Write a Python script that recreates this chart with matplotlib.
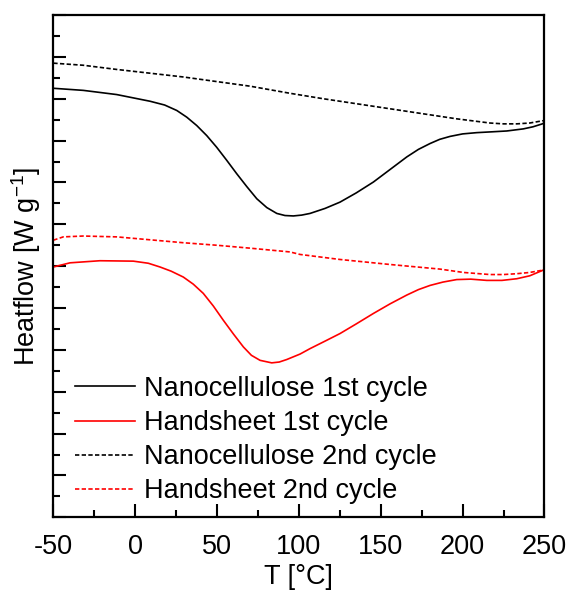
#
# DSC heat flow curves, nanocellulose vs handsheet
#
import matplotlib.pyplot as plt
from matplotlib.ticker import MultipleLocator, NullFormatter

plt.rcParams['font.family'] = ['Liberation Sans', 'DejaVu Sans']
plt.rcParams['axes.unicode_minus'] = False
plt.rcParams['mathtext.fontset'] = 'custom'
plt.rcParams['mathtext.rm'] = 'Liberation Sans'
plt.rcParams['mathtext.default'] = 'regular'

# Nanocellulose 1st cycle
T_nc1 = [-50, -31.7, -11.3, 9.1, 18, 25.4, 31.5, 37.6, 43.7, 49.8, 55.9, 62.0,
         68.2, 74.3, 80.4, 86.5, 91.5, 96.6, 101.7, 106.8, 116, 125.1, 135,
         145.5, 155.7, 165.9, 173, 180.1, 186, 192.3, 200, 208.6, 218, 227.0,
         237.1, 243, 248.7, 249.6, 250]
H_nc1 = [10.25, 10.20, 10.10, 9.94, 9.85, 9.72, 9.56, 9.36, 9.12, 8.84, 8.53, 8.21,
         7.90, 7.61, 7.40, 7.26, 7.21, 7.20, 7.22, 7.26, 7.38, 7.53, 7.75,
         8.01, 8.31, 8.61, 8.79, 8.93, 9.03, 9.10, 9.16, 9.19, 9.21, 9.23,
         9.28, 9.33, 9.40, 9.42, 7.10]

# Handsheet 1st cycle
T_hs1 = [-50, -39.8, -21.5, -1.1, 8, 15.2, 22, 29.4, 35.5, 41.6, 47.7, 53.8,
         60, 66.1, 71, 76.3, 83.4, 88, 92.6, 100.7, 106.8, 116, 125.1, 135,
         145.5, 155.7, 165.9, 173, 180.1, 188, 196.4, 205, 214.8, 224, 233.1,
         241, 248.3, 250]
H_hs1 = [5.98, 6.08, 6.13, 6.12, 6.07, 5.98, 5.88, 5.74, 5.57, 5.35, 5.05, 4.71,
         4.38, 4.07, 3.87, 3.75, 3.69, 3.71, 3.77, 3.90, 4.03, 4.21, 4.39, 4.62,
         4.87, 5.10, 5.31, 5.44, 5.54, 5.62, 5.68, 5.69, 5.66, 5.66, 5.70,
         5.77, 5.89, 5.92]

# Nanocellulose 2nd cycle
T_nc2 = [-50, -31.7, -11.3, 9.1, 29.4, 49.8, 70.2, 94.6, 114.9, 135.3, 155.7,
         176.0, 196.4, 216.7, 225, 233.1, 241, 248.3, 250]
H_nc2 = [10.85, 10.80, 10.70, 10.61, 10.52, 10.41, 10.30, 10.13, 10.00, 9.88, 9.76,
         9.64, 9.52, 9.42, 9.40, 9.40, 9.42, 9.47, 9.48]

# Handsheet 2nd cycle
T_hs2 = [-50, -43.9, -31.7, -11.3, 9.1, 29.4, 49.8, 70.2, 94.6, 100.7, 125.1,
         155.7, 186.2, 200.5, 216.7, 225, 233.1, 241, 248.3, 250]
H_hs2 = [6.62, 6.70, 6.72, 6.70, 6.63, 6.56, 6.50, 6.43, 6.34, 6.28, 6.16,
         6.04, 5.93, 5.85, 5.80, 5.80, 5.82, 5.85, 5.90, 5.91]

labels = ['Nanocellulose 1st cycle', 'Handsheet 1st cycle',
          'Nanocellulose 2nd cycle', 'Handsheet 2nd cycle']

fig = plt.figure(figsize=(5.69, 5.94), dpi=100)
ax = fig.add_axes([0.0937, 0.1291, 0.8632, 0.8456])

dash = (0, (2.6, 1.4))
ax.plot(T_nc1, H_nc1, color='black', lw=1.2, label=labels[0])
ax.plot(T_hs1, H_hs1, color='red', lw=1.2, label=labels[1])
ax.plot(T_nc2, H_nc2, color='black', lw=1.2, ls=dash, label=labels[2])
ax.plot(T_hs2, H_hs2, color='red', lw=1.2, ls=dash, label=labels[3])

ax.set_xlim(-50, 250)
ax.set_ylim(0, 12)
ax.xaxis.set_major_locator(MultipleLocator(50))
ax.xaxis.set_minor_locator(MultipleLocator(25))
ax.yaxis.set_major_locator(MultipleLocator(1))
ax.yaxis.set_minor_locator(MultipleLocator(0.5))
ax.yaxis.set_major_formatter(NullFormatter())

for s in ax.spines.values():
    s.set_linewidth(1.6)
ax.tick_params(which='both', direction='in', width=1.5, top=False, right=False)
ax.tick_params(which='major', length=9.4)
ax.tick_params(which='minor', length=4.7)
ax.tick_params(axis='x', which='major', labelsize=19.5, pad=12)

ax.set_xlabel('T [°C]', fontsize=19.5, labelpad=3)
ax.set_ylabel('Heatflow [W g$^{-1}$]', fontsize=19.5, labelpad=4)

ax.legend(loc='lower left', bbox_to_anchor=(0.044, 0.026), frameon=False,
          fontsize=19.5, borderaxespad=0, borderpad=0, handlelength=2.2,
          handletextpad=0.35, labelspacing=0.3)

plt.savefig('out.png', dpi=100)
